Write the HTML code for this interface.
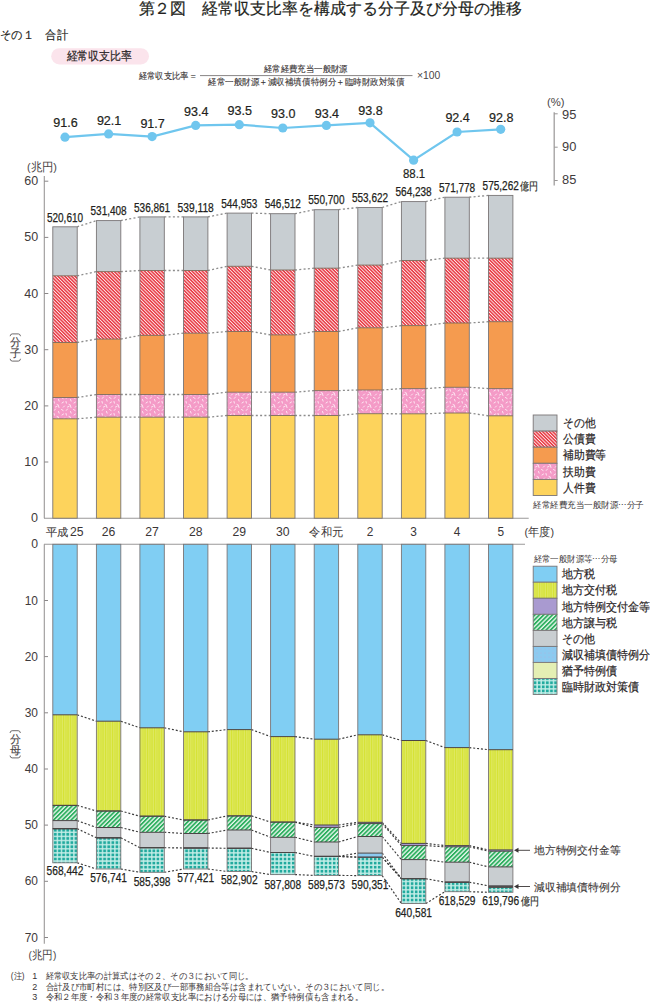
<!DOCTYPE html><html><head><meta charset="utf-8"><style>html,body{margin:0;padding:0;background:#fff;width:650px;height:1002px;overflow:hidden}svg{display:block}text{font-family:"Liberation Sans",sans-serif}</style></head><body>
<svg width="650" height="1002" viewBox="0 0 650 1002">
<defs>
<pattern id="pOther" width="4" height="4" patternUnits="userSpaceOnUse"><rect width="4" height="4" fill="#c8ced2"/></pattern>
<pattern id="pDebt" width="2.4" height="2.4" patternUnits="userSpaceOnUse" patternTransform="rotate(45)"><rect width="2.4" height="2.4" fill="#fdeaea"/><rect width="2.4" height="1.45" fill="#e8343f"/></pattern>
<pattern id="pAid" width="12" height="12" patternUnits="userSpaceOnUse"><rect width="12" height="12" fill="#f49bc7"/>
<path d="M1.5 1.5l1.6 1M7.5 1l-1.2 1.4M10.5 3.5l0.6 1.6M2 7l1.5-1M6 5.5l0.4 1.6M9 8.5l1.6 0.8M4.5 10l-1.2 1.2M11 11.5l-0.5-1.5M7.5 11l1.5-0.6" stroke="#fff" stroke-width="0.75" stroke-linecap="round"/></pattern>
<pattern id="pKofu" width="7" height="4" patternUnits="userSpaceOnUse"><rect width="7" height="4" fill="#d6e336"/><rect x="1.5" width="0.8" height="4" fill="#e4ec7c"/><rect x="3.6" width="0.7" height="4" fill="#e0ea6c"/><rect x="5.8" width="0.8" height="4" fill="#e4ec7c"/></pattern>
<pattern id="pJoyo" width="3.1" height="3.1" patternUnits="userSpaceOnUse" patternTransform="rotate(-45)"><rect width="3.1" height="3.1" fill="#e4f6ea"/><rect width="3.1" height="1.75" fill="#2daf5f"/></pattern>
<pattern id="pGenshu" width="4" height="4" patternUnits="userSpaceOnUse"><rect width="4" height="4" fill="#8ccaf0"/><circle cx="1" cy="1" r="0.4" fill="#c9a0c8"/></pattern>
<pattern id="pRinzai" width="4.1" height="4.1" patternUnits="userSpaceOnUse"><rect width="4.1" height="4.1" fill="#c4eee8"/><rect x="0.75" y="0.75" width="2.7" height="2.7" fill="#21aa9e"/></pattern>
</defs>
<text x="138.5" y="14.2" font-size="15.5" fill="#231f20" text-anchor="start" stroke="#231f20" stroke-width="0.2" textLength="383" lengthAdjust="spacingAndGlyphs" >第２図　経常収支比率を構成する分子及び分母の推移</text>
<text x="0" y="38.5" font-size="12" fill="#231f20" text-anchor="start" stroke="#231f20" stroke-width="0.15" textLength="67.8" lengthAdjust="spacingAndGlyphs" >その１　合計</text>
<rect x="51.2" y="48.2" width="97.8" height="16.2" rx="8.1" fill="#fbe4ec"/>
<text x="66.5" y="60.2" font-size="11.5" fill="#2a2526" text-anchor="start" stroke="#2a2526" stroke-width="0.2" textLength="65.7" lengthAdjust="spacingAndGlyphs" >経常収支比率</text>
<text x="138.6" y="79.0" font-size="9.3" fill="#3a3536" text-anchor="start" stroke="#3a3536" stroke-width="0.12" textLength="58.4" lengthAdjust="spacingAndGlyphs" >経常収支比率＝</text>
<line x1="200" y1="75.6" x2="412.5" y2="75.6" stroke="#7a7677" stroke-width="0.9"/>
<text x="263.8" y="72.1" font-size="9.3" fill="#3a3536" text-anchor="start" stroke="#3a3536" stroke-width="0.12" textLength="84" lengthAdjust="spacingAndGlyphs" >経常経費充当一般財源</text>
<text x="208.2" y="85.3" font-size="9.3" fill="#3a3536" text-anchor="start" stroke="#3a3536" stroke-width="0.12" textLength="196.1" lengthAdjust="spacingAndGlyphs" >経常一般財源＋減収補填債特例分＋臨時財政対策債</text>
<text x="416.9" y="79.1" font-size="10" fill="#4a4546" text-anchor="start" textLength="23.3" lengthAdjust="spacingAndGlyphs" >×100</text>
<polyline fill="none" stroke="#6fc6ee" stroke-width="2.2" points="65.0,137.2 108.6,133.9 152.1,136.6 195.7,125.4 239.3,124.7 282.8,128.0 326.4,125.4 370.0,122.8 413.6,160.2 457.1,132.0 500.7,129.3"/>
<circle cx="65.0" cy="137.2" r="4.6" fill="#70c6ee"/>
<circle cx="108.6" cy="133.9" r="4.6" fill="#70c6ee"/>
<circle cx="152.1" cy="136.6" r="4.6" fill="#70c6ee"/>
<circle cx="195.7" cy="125.4" r="4.6" fill="#70c6ee"/>
<circle cx="239.3" cy="124.7" r="4.6" fill="#70c6ee"/>
<circle cx="282.8" cy="128.0" r="4.6" fill="#70c6ee"/>
<circle cx="326.4" cy="125.4" r="4.6" fill="#70c6ee"/>
<circle cx="370.0" cy="122.8" r="4.6" fill="#70c6ee"/>
<circle cx="413.6" cy="160.2" r="4.6" fill="#70c6ee"/>
<circle cx="457.1" cy="132.0" r="4.6" fill="#70c6ee"/>
<circle cx="500.7" cy="129.3" r="4.6" fill="#70c6ee"/>
<text x="65.5" y="126.6" font-size="12" fill="#231f20" text-anchor="middle" stroke="#231f20" stroke-width="0.2" textLength="24.4" lengthAdjust="spacingAndGlyphs" >91.6</text>
<text x="109.1" y="124.5" font-size="12" fill="#231f20" text-anchor="middle" stroke="#231f20" stroke-width="0.2" textLength="24.4" lengthAdjust="spacingAndGlyphs" >92.1</text>
<text x="152.6" y="127.5" font-size="12" fill="#231f20" text-anchor="middle" stroke="#231f20" stroke-width="0.2" textLength="24.4" lengthAdjust="spacingAndGlyphs" >91.7</text>
<text x="196.2" y="116.3" font-size="12" fill="#231f20" text-anchor="middle" stroke="#231f20" stroke-width="0.2" textLength="24.4" lengthAdjust="spacingAndGlyphs" >93.4</text>
<text x="239.8" y="115.1" font-size="12" fill="#231f20" text-anchor="middle" stroke="#231f20" stroke-width="0.2" textLength="24.4" lengthAdjust="spacingAndGlyphs" >93.5</text>
<text x="283.3" y="118.4" font-size="12" fill="#231f20" text-anchor="middle" stroke="#231f20" stroke-width="0.2" textLength="24.4" lengthAdjust="spacingAndGlyphs" >93.0</text>
<text x="326.9" y="118.0" font-size="12" fill="#231f20" text-anchor="middle" stroke="#231f20" stroke-width="0.2" textLength="24.4" lengthAdjust="spacingAndGlyphs" >93.4</text>
<text x="370.5" y="115.0" font-size="12" fill="#231f20" text-anchor="middle" stroke="#231f20" stroke-width="0.2" textLength="24.4" lengthAdjust="spacingAndGlyphs" >93.8</text>
<text x="414.1" y="177.7" font-size="12" fill="#231f20" text-anchor="middle" stroke="#231f20" stroke-width="0.2" textLength="22.2" lengthAdjust="spacingAndGlyphs" >88.1</text>
<text x="457.6" y="121.6" font-size="12" fill="#231f20" text-anchor="middle" stroke="#231f20" stroke-width="0.2" textLength="24.4" lengthAdjust="spacingAndGlyphs" >92.4</text>
<text x="501.2" y="121.6" font-size="12" fill="#231f20" text-anchor="middle" stroke="#231f20" stroke-width="0.2" textLength="24.4" lengthAdjust="spacingAndGlyphs" >92.8</text>
<line x1="554.2" y1="112.3" x2="554.2" y2="185.4" stroke="#a09e9e" stroke-width="1.3"/>
<line x1="554.2" y1="113.8" x2="557.7" y2="113.8" stroke="#9a9898" stroke-width="1"/>
<text x="562.0" y="118.6" font-size="13.2" fill="#3f3b3c" text-anchor="start" textLength="14.3" lengthAdjust="spacingAndGlyphs" >95</text>
<line x1="554.2" y1="147.2" x2="557.7" y2="147.2" stroke="#9a9898" stroke-width="1"/>
<text x="562.0" y="151.3" font-size="13.2" fill="#3f3b3c" text-anchor="start" textLength="14.3" lengthAdjust="spacingAndGlyphs" >90</text>
<line x1="554.2" y1="180.5" x2="557.7" y2="180.5" stroke="#9a9898" stroke-width="1"/>
<text x="562.0" y="183.9" font-size="13.2" fill="#3f3b3c" text-anchor="start" textLength="14.3" lengthAdjust="spacingAndGlyphs" >85</text>
<text x="547" y="106.4" font-size="11.5" fill="#4a4546" text-anchor="start" textLength="17.6" lengthAdjust="spacingAndGlyphs" >(%)</text>
<line x1="44.3" y1="176" x2="44.3" y2="518.2" stroke="#9a9898" stroke-width="1.1"/>
<line x1="44" y1="518.2" x2="528.7" y2="518.2" stroke="#9a9898" stroke-width="1.1"/>
<line x1="44.3" y1="181.2" x2="48.3" y2="181.2" stroke="#8a8788" stroke-width="1"/>
<text x="38.1" y="185.2" font-size="13.2" fill="#3f3b3c" text-anchor="end" textLength="13.9" lengthAdjust="spacingAndGlyphs" >60</text>
<line x1="44.3" y1="237.4" x2="48.3" y2="237.4" stroke="#8a8788" stroke-width="1"/>
<text x="38.1" y="241.4" font-size="13.2" fill="#3f3b3c" text-anchor="end" textLength="13.9" lengthAdjust="spacingAndGlyphs" >50</text>
<line x1="44.3" y1="293.5" x2="48.3" y2="293.5" stroke="#8a8788" stroke-width="1"/>
<text x="38.1" y="297.5" font-size="13.2" fill="#3f3b3c" text-anchor="end" textLength="13.9" lengthAdjust="spacingAndGlyphs" >40</text>
<line x1="44.3" y1="349.7" x2="48.3" y2="349.7" stroke="#8a8788" stroke-width="1"/>
<text x="38.1" y="353.7" font-size="13.2" fill="#3f3b3c" text-anchor="end" textLength="13.9" lengthAdjust="spacingAndGlyphs" >30</text>
<line x1="44.3" y1="405.9" x2="48.3" y2="405.9" stroke="#8a8788" stroke-width="1"/>
<text x="38.1" y="409.9" font-size="13.2" fill="#3f3b3c" text-anchor="end" textLength="13.9" lengthAdjust="spacingAndGlyphs" >20</text>
<line x1="44.3" y1="462.0" x2="48.3" y2="462.0" stroke="#8a8788" stroke-width="1"/>
<text x="38.1" y="466.0" font-size="13.2" fill="#3f3b3c" text-anchor="end" textLength="13.9" lengthAdjust="spacingAndGlyphs" >10</text>
<text x="38.1" y="522.2" font-size="13.2" fill="#3f3b3c" text-anchor="end" textLength="7" lengthAdjust="spacingAndGlyphs" >0</text>
<text x="27" y="171" font-size="11.5" fill="#4a4546" text-anchor="start" textLength="30" lengthAdjust="spacingAndGlyphs" >(兆円)</text>
<path d="M10.100000000000001 336.20000000000005q0.3 -2.3 2.2 -2.3h6q1.9 0 2.2 2.3" fill="none" stroke="#4a4546" stroke-width="0.8"/>
<text x="15.3" y="346.2" font-size="10.8" fill="#4a4546" text-anchor="middle" stroke="#4a4546" stroke-width="0.15" >分</text>
<text x="15.3" y="357.4" font-size="10.8" fill="#4a4546" text-anchor="middle" stroke="#4a4546" stroke-width="0.15" >子</text>
<path d="M10.100000000000001 358.8q0.3 2.3 2.2 2.3h6q1.9 0 2.2 -2.3" fill="none" stroke="#4a4546" stroke-width="0.8"/>
<line x1="77.2" y1="226.8" x2="96.4" y2="220.6" stroke="#8c8c8c" stroke-width="1.3" stroke-dasharray="2,2.3"/>
<line x1="77.2" y1="275.8" x2="96.4" y2="271.6" stroke="#8c8c8c" stroke-width="1.3" stroke-dasharray="2,2.3"/>
<line x1="77.2" y1="342.5" x2="96.4" y2="339.1" stroke="#8c8c8c" stroke-width="1.3" stroke-dasharray="2,2.3"/>
<line x1="77.2" y1="397.5" x2="96.4" y2="394.5" stroke="#8c8c8c" stroke-width="1.3" stroke-dasharray="2,2.3"/>
<line x1="77.2" y1="418.8" x2="96.4" y2="417.2" stroke="#8c8c8c" stroke-width="1.3" stroke-dasharray="2,2.3"/>
<line x1="120.8" y1="220.6" x2="139.9" y2="216.9" stroke="#8c8c8c" stroke-width="1.3" stroke-dasharray="2,2.3"/>
<line x1="120.8" y1="271.6" x2="139.9" y2="270.5" stroke="#8c8c8c" stroke-width="1.3" stroke-dasharray="2,2.3"/>
<line x1="120.8" y1="339.1" x2="139.9" y2="335.4" stroke="#8c8c8c" stroke-width="1.3" stroke-dasharray="2,2.3"/>
<line x1="120.8" y1="394.5" x2="139.9" y2="394.5" stroke="#8c8c8c" stroke-width="1.3" stroke-dasharray="2,2.3"/>
<line x1="120.8" y1="417.2" x2="139.9" y2="417.2" stroke="#8c8c8c" stroke-width="1.3" stroke-dasharray="2,2.3"/>
<line x1="164.3" y1="216.9" x2="183.5" y2="216.9" stroke="#8c8c8c" stroke-width="1.3" stroke-dasharray="2,2.3"/>
<line x1="164.3" y1="270.5" x2="183.5" y2="270.5" stroke="#8c8c8c" stroke-width="1.3" stroke-dasharray="2,2.3"/>
<line x1="164.3" y1="335.4" x2="183.5" y2="333.2" stroke="#8c8c8c" stroke-width="1.3" stroke-dasharray="2,2.3"/>
<line x1="164.3" y1="394.5" x2="183.5" y2="394.5" stroke="#8c8c8c" stroke-width="1.3" stroke-dasharray="2,2.3"/>
<line x1="164.3" y1="417.2" x2="183.5" y2="417.2" stroke="#8c8c8c" stroke-width="1.3" stroke-dasharray="2,2.3"/>
<line x1="207.9" y1="216.9" x2="227.1" y2="213.1" stroke="#8c8c8c" stroke-width="1.3" stroke-dasharray="2,2.3"/>
<line x1="207.9" y1="270.5" x2="227.1" y2="266.3" stroke="#8c8c8c" stroke-width="1.3" stroke-dasharray="2,2.3"/>
<line x1="207.9" y1="333.2" x2="227.1" y2="331.5" stroke="#8c8c8c" stroke-width="1.3" stroke-dasharray="2,2.3"/>
<line x1="207.9" y1="394.5" x2="227.1" y2="392.2" stroke="#8c8c8c" stroke-width="1.3" stroke-dasharray="2,2.3"/>
<line x1="207.9" y1="417.2" x2="227.1" y2="415.5" stroke="#8c8c8c" stroke-width="1.3" stroke-dasharray="2,2.3"/>
<line x1="251.5" y1="213.1" x2="270.6" y2="213.7" stroke="#8c8c8c" stroke-width="1.3" stroke-dasharray="2,2.3"/>
<line x1="251.5" y1="266.3" x2="270.6" y2="270.0" stroke="#8c8c8c" stroke-width="1.3" stroke-dasharray="2,2.3"/>
<line x1="251.5" y1="331.5" x2="270.6" y2="334.9" stroke="#8c8c8c" stroke-width="1.3" stroke-dasharray="2,2.3"/>
<line x1="251.5" y1="392.2" x2="270.6" y2="392.2" stroke="#8c8c8c" stroke-width="1.3" stroke-dasharray="2,2.3"/>
<line x1="251.5" y1="415.5" x2="270.6" y2="415.5" stroke="#8c8c8c" stroke-width="1.3" stroke-dasharray="2,2.3"/>
<line x1="295.0" y1="213.7" x2="314.2" y2="209.7" stroke="#8c8c8c" stroke-width="1.3" stroke-dasharray="2,2.3"/>
<line x1="295.0" y1="270.0" x2="314.2" y2="268.2" stroke="#8c8c8c" stroke-width="1.3" stroke-dasharray="2,2.3"/>
<line x1="295.0" y1="334.9" x2="314.2" y2="331.5" stroke="#8c8c8c" stroke-width="1.3" stroke-dasharray="2,2.3"/>
<line x1="295.0" y1="392.2" x2="314.2" y2="390.6" stroke="#8c8c8c" stroke-width="1.3" stroke-dasharray="2,2.3"/>
<line x1="295.0" y1="415.5" x2="314.2" y2="415.5" stroke="#8c8c8c" stroke-width="1.3" stroke-dasharray="2,2.3"/>
<line x1="338.6" y1="209.7" x2="357.8" y2="207.5" stroke="#8c8c8c" stroke-width="1.3" stroke-dasharray="2,2.3"/>
<line x1="338.6" y1="268.2" x2="357.8" y2="265.1" stroke="#8c8c8c" stroke-width="1.3" stroke-dasharray="2,2.3"/>
<line x1="338.6" y1="331.5" x2="357.8" y2="327.8" stroke="#8c8c8c" stroke-width="1.3" stroke-dasharray="2,2.3"/>
<line x1="338.6" y1="390.6" x2="357.8" y2="390.0" stroke="#8c8c8c" stroke-width="1.3" stroke-dasharray="2,2.3"/>
<line x1="338.6" y1="415.5" x2="357.8" y2="413.7" stroke="#8c8c8c" stroke-width="1.3" stroke-dasharray="2,2.3"/>
<line x1="382.2" y1="207.5" x2="401.4" y2="201.6" stroke="#8c8c8c" stroke-width="1.3" stroke-dasharray="2,2.3"/>
<line x1="382.2" y1="265.1" x2="401.4" y2="260.5" stroke="#8c8c8c" stroke-width="1.3" stroke-dasharray="2,2.3"/>
<line x1="382.2" y1="327.8" x2="401.4" y2="325.6" stroke="#8c8c8c" stroke-width="1.3" stroke-dasharray="2,2.3"/>
<line x1="382.2" y1="390.0" x2="401.4" y2="388.6" stroke="#8c8c8c" stroke-width="1.3" stroke-dasharray="2,2.3"/>
<line x1="382.2" y1="413.7" x2="401.4" y2="413.8" stroke="#8c8c8c" stroke-width="1.3" stroke-dasharray="2,2.3"/>
<line x1="425.8" y1="201.6" x2="444.9" y2="197.2" stroke="#8c8c8c" stroke-width="1.3" stroke-dasharray="2,2.3"/>
<line x1="425.8" y1="260.5" x2="444.9" y2="258.2" stroke="#8c8c8c" stroke-width="1.3" stroke-dasharray="2,2.3"/>
<line x1="425.8" y1="325.6" x2="444.9" y2="323.0" stroke="#8c8c8c" stroke-width="1.3" stroke-dasharray="2,2.3"/>
<line x1="425.8" y1="388.6" x2="444.9" y2="387.3" stroke="#8c8c8c" stroke-width="1.3" stroke-dasharray="2,2.3"/>
<line x1="425.8" y1="413.8" x2="444.9" y2="413.0" stroke="#8c8c8c" stroke-width="1.3" stroke-dasharray="2,2.3"/>
<line x1="469.3" y1="197.2" x2="488.5" y2="195.4" stroke="#8c8c8c" stroke-width="1.3" stroke-dasharray="2,2.3"/>
<line x1="469.3" y1="258.2" x2="488.5" y2="258.2" stroke="#8c8c8c" stroke-width="1.3" stroke-dasharray="2,2.3"/>
<line x1="469.3" y1="323.0" x2="488.5" y2="321.7" stroke="#8c8c8c" stroke-width="1.3" stroke-dasharray="2,2.3"/>
<line x1="469.3" y1="387.3" x2="488.5" y2="388.6" stroke="#8c8c8c" stroke-width="1.3" stroke-dasharray="2,2.3"/>
<line x1="469.3" y1="413.0" x2="488.5" y2="415.8" stroke="#8c8c8c" stroke-width="1.3" stroke-dasharray="2,2.3"/>
<rect x="52.8" y="226.8" width="24.4" height="49.0" fill="url(#pOther)"/>
<rect x="52.8" y="275.8" width="24.4" height="66.7" fill="url(#pDebt)"/>
<rect x="52.8" y="342.5" width="24.4" height="55.0" fill="#f59b4f"/>
<rect x="52.8" y="397.5" width="24.4" height="21.3" fill="url(#pAid)"/>
<rect x="52.8" y="418.8" width="24.4" height="99.4" fill="#fdd35c"/>
<rect x="52.8" y="226.8" width="24.4" height="291.4" fill="none" stroke="#7a7677" stroke-width="0.9"/>
<line x1="52.8" y1="275.8" x2="77.2" y2="275.8" stroke="#7a6a5a" stroke-width="0.9"/>
<line x1="52.8" y1="342.5" x2="77.2" y2="342.5" stroke="#7a6a5a" stroke-width="0.9"/>
<line x1="52.8" y1="397.5" x2="77.2" y2="397.5" stroke="#7a6a5a" stroke-width="0.9"/>
<line x1="52.8" y1="418.8" x2="77.2" y2="418.8" stroke="#7a6a5a" stroke-width="0.9"/>
<rect x="96.4" y="220.6" width="24.4" height="51.0" fill="url(#pOther)"/>
<rect x="96.4" y="271.6" width="24.4" height="67.5" fill="url(#pDebt)"/>
<rect x="96.4" y="339.1" width="24.4" height="55.4" fill="#f59b4f"/>
<rect x="96.4" y="394.5" width="24.4" height="22.7" fill="url(#pAid)"/>
<rect x="96.4" y="417.2" width="24.4" height="101.0" fill="#fdd35c"/>
<rect x="96.4" y="220.6" width="24.4" height="297.6" fill="none" stroke="#7a7677" stroke-width="0.9"/>
<line x1="96.4" y1="271.6" x2="120.8" y2="271.6" stroke="#7a6a5a" stroke-width="0.9"/>
<line x1="96.4" y1="339.1" x2="120.8" y2="339.1" stroke="#7a6a5a" stroke-width="0.9"/>
<line x1="96.4" y1="394.5" x2="120.8" y2="394.5" stroke="#7a6a5a" stroke-width="0.9"/>
<line x1="96.4" y1="417.2" x2="120.8" y2="417.2" stroke="#7a6a5a" stroke-width="0.9"/>
<rect x="139.9" y="216.9" width="24.4" height="53.6" fill="url(#pOther)"/>
<rect x="139.9" y="270.5" width="24.4" height="64.9" fill="url(#pDebt)"/>
<rect x="139.9" y="335.4" width="24.4" height="59.1" fill="#f59b4f"/>
<rect x="139.9" y="394.5" width="24.4" height="22.7" fill="url(#pAid)"/>
<rect x="139.9" y="417.2" width="24.4" height="101.0" fill="#fdd35c"/>
<rect x="139.9" y="216.9" width="24.4" height="301.3" fill="none" stroke="#7a7677" stroke-width="0.9"/>
<line x1="139.9" y1="270.5" x2="164.3" y2="270.5" stroke="#7a6a5a" stroke-width="0.9"/>
<line x1="139.9" y1="335.4" x2="164.3" y2="335.4" stroke="#7a6a5a" stroke-width="0.9"/>
<line x1="139.9" y1="394.5" x2="164.3" y2="394.5" stroke="#7a6a5a" stroke-width="0.9"/>
<line x1="139.9" y1="417.2" x2="164.3" y2="417.2" stroke="#7a6a5a" stroke-width="0.9"/>
<rect x="183.5" y="216.9" width="24.4" height="53.6" fill="url(#pOther)"/>
<rect x="183.5" y="270.5" width="24.4" height="62.7" fill="url(#pDebt)"/>
<rect x="183.5" y="333.2" width="24.4" height="61.3" fill="#f59b4f"/>
<rect x="183.5" y="394.5" width="24.4" height="22.7" fill="url(#pAid)"/>
<rect x="183.5" y="417.2" width="24.4" height="101.0" fill="#fdd35c"/>
<rect x="183.5" y="216.9" width="24.4" height="301.3" fill="none" stroke="#7a7677" stroke-width="0.9"/>
<line x1="183.5" y1="270.5" x2="207.9" y2="270.5" stroke="#7a6a5a" stroke-width="0.9"/>
<line x1="183.5" y1="333.2" x2="207.9" y2="333.2" stroke="#7a6a5a" stroke-width="0.9"/>
<line x1="183.5" y1="394.5" x2="207.9" y2="394.5" stroke="#7a6a5a" stroke-width="0.9"/>
<line x1="183.5" y1="417.2" x2="207.9" y2="417.2" stroke="#7a6a5a" stroke-width="0.9"/>
<rect x="227.1" y="213.1" width="24.4" height="53.2" fill="url(#pOther)"/>
<rect x="227.1" y="266.3" width="24.4" height="65.2" fill="url(#pDebt)"/>
<rect x="227.1" y="331.5" width="24.4" height="60.7" fill="#f59b4f"/>
<rect x="227.1" y="392.2" width="24.4" height="23.3" fill="url(#pAid)"/>
<rect x="227.1" y="415.5" width="24.4" height="102.7" fill="#fdd35c"/>
<rect x="227.1" y="213.1" width="24.4" height="305.1" fill="none" stroke="#7a7677" stroke-width="0.9"/>
<line x1="227.1" y1="266.3" x2="251.5" y2="266.3" stroke="#7a6a5a" stroke-width="0.9"/>
<line x1="227.1" y1="331.5" x2="251.5" y2="331.5" stroke="#7a6a5a" stroke-width="0.9"/>
<line x1="227.1" y1="392.2" x2="251.5" y2="392.2" stroke="#7a6a5a" stroke-width="0.9"/>
<line x1="227.1" y1="415.5" x2="251.5" y2="415.5" stroke="#7a6a5a" stroke-width="0.9"/>
<rect x="270.6" y="213.7" width="24.4" height="56.3" fill="url(#pOther)"/>
<rect x="270.6" y="270.0" width="24.4" height="64.9" fill="url(#pDebt)"/>
<rect x="270.6" y="334.9" width="24.4" height="57.3" fill="#f59b4f"/>
<rect x="270.6" y="392.2" width="24.4" height="23.3" fill="url(#pAid)"/>
<rect x="270.6" y="415.5" width="24.4" height="102.7" fill="#fdd35c"/>
<rect x="270.6" y="213.7" width="24.4" height="304.5" fill="none" stroke="#7a7677" stroke-width="0.9"/>
<line x1="270.6" y1="270.0" x2="295.0" y2="270.0" stroke="#7a6a5a" stroke-width="0.9"/>
<line x1="270.6" y1="334.9" x2="295.0" y2="334.9" stroke="#7a6a5a" stroke-width="0.9"/>
<line x1="270.6" y1="392.2" x2="295.0" y2="392.2" stroke="#7a6a5a" stroke-width="0.9"/>
<line x1="270.6" y1="415.5" x2="295.0" y2="415.5" stroke="#7a6a5a" stroke-width="0.9"/>
<rect x="314.2" y="209.7" width="24.4" height="58.5" fill="url(#pOther)"/>
<rect x="314.2" y="268.2" width="24.4" height="63.3" fill="url(#pDebt)"/>
<rect x="314.2" y="331.5" width="24.4" height="59.1" fill="#f59b4f"/>
<rect x="314.2" y="390.6" width="24.4" height="24.9" fill="url(#pAid)"/>
<rect x="314.2" y="415.5" width="24.4" height="102.7" fill="#fdd35c"/>
<rect x="314.2" y="209.7" width="24.4" height="308.5" fill="none" stroke="#7a7677" stroke-width="0.9"/>
<line x1="314.2" y1="268.2" x2="338.6" y2="268.2" stroke="#7a6a5a" stroke-width="0.9"/>
<line x1="314.2" y1="331.5" x2="338.6" y2="331.5" stroke="#7a6a5a" stroke-width="0.9"/>
<line x1="314.2" y1="390.6" x2="338.6" y2="390.6" stroke="#7a6a5a" stroke-width="0.9"/>
<line x1="314.2" y1="415.5" x2="338.6" y2="415.5" stroke="#7a6a5a" stroke-width="0.9"/>
<rect x="357.8" y="207.5" width="24.4" height="57.6" fill="url(#pOther)"/>
<rect x="357.8" y="265.1" width="24.4" height="62.7" fill="url(#pDebt)"/>
<rect x="357.8" y="327.8" width="24.4" height="62.2" fill="#f59b4f"/>
<rect x="357.8" y="390.0" width="24.4" height="23.7" fill="url(#pAid)"/>
<rect x="357.8" y="413.7" width="24.4" height="104.5" fill="#fdd35c"/>
<rect x="357.8" y="207.5" width="24.4" height="310.7" fill="none" stroke="#7a7677" stroke-width="0.9"/>
<line x1="357.8" y1="265.1" x2="382.2" y2="265.1" stroke="#7a6a5a" stroke-width="0.9"/>
<line x1="357.8" y1="327.8" x2="382.2" y2="327.8" stroke="#7a6a5a" stroke-width="0.9"/>
<line x1="357.8" y1="390.0" x2="382.2" y2="390.0" stroke="#7a6a5a" stroke-width="0.9"/>
<line x1="357.8" y1="413.7" x2="382.2" y2="413.7" stroke="#7a6a5a" stroke-width="0.9"/>
<rect x="401.4" y="201.6" width="24.4" height="58.9" fill="url(#pOther)"/>
<rect x="401.4" y="260.5" width="24.4" height="65.1" fill="url(#pDebt)"/>
<rect x="401.4" y="325.6" width="24.4" height="63.0" fill="#f59b4f"/>
<rect x="401.4" y="388.6" width="24.4" height="25.2" fill="url(#pAid)"/>
<rect x="401.4" y="413.8" width="24.4" height="104.4" fill="#fdd35c"/>
<rect x="401.4" y="201.6" width="24.4" height="316.6" fill="none" stroke="#7a7677" stroke-width="0.9"/>
<line x1="401.4" y1="260.5" x2="425.8" y2="260.5" stroke="#7a6a5a" stroke-width="0.9"/>
<line x1="401.4" y1="325.6" x2="425.8" y2="325.6" stroke="#7a6a5a" stroke-width="0.9"/>
<line x1="401.4" y1="388.6" x2="425.8" y2="388.6" stroke="#7a6a5a" stroke-width="0.9"/>
<line x1="401.4" y1="413.8" x2="425.8" y2="413.8" stroke="#7a6a5a" stroke-width="0.9"/>
<rect x="444.9" y="197.2" width="24.4" height="61.0" fill="url(#pOther)"/>
<rect x="444.9" y="258.2" width="24.4" height="64.8" fill="url(#pDebt)"/>
<rect x="444.9" y="323.0" width="24.4" height="64.3" fill="#f59b4f"/>
<rect x="444.9" y="387.3" width="24.4" height="25.7" fill="url(#pAid)"/>
<rect x="444.9" y="413.0" width="24.4" height="105.2" fill="#fdd35c"/>
<rect x="444.9" y="197.2" width="24.4" height="321.0" fill="none" stroke="#7a7677" stroke-width="0.9"/>
<line x1="444.9" y1="258.2" x2="469.3" y2="258.2" stroke="#7a6a5a" stroke-width="0.9"/>
<line x1="444.9" y1="323.0" x2="469.3" y2="323.0" stroke="#7a6a5a" stroke-width="0.9"/>
<line x1="444.9" y1="387.3" x2="469.3" y2="387.3" stroke="#7a6a5a" stroke-width="0.9"/>
<line x1="444.9" y1="413.0" x2="469.3" y2="413.0" stroke="#7a6a5a" stroke-width="0.9"/>
<rect x="488.5" y="195.4" width="24.4" height="62.8" fill="url(#pOther)"/>
<rect x="488.5" y="258.2" width="24.4" height="63.5" fill="url(#pDebt)"/>
<rect x="488.5" y="321.7" width="24.4" height="66.9" fill="#f59b4f"/>
<rect x="488.5" y="388.6" width="24.4" height="27.2" fill="url(#pAid)"/>
<rect x="488.5" y="415.8" width="24.4" height="102.4" fill="#fdd35c"/>
<rect x="488.5" y="195.4" width="24.4" height="322.8" fill="none" stroke="#7a7677" stroke-width="0.9"/>
<line x1="488.5" y1="258.2" x2="512.9" y2="258.2" stroke="#7a6a5a" stroke-width="0.9"/>
<line x1="488.5" y1="321.7" x2="512.9" y2="321.7" stroke="#7a6a5a" stroke-width="0.9"/>
<line x1="488.5" y1="388.6" x2="512.9" y2="388.6" stroke="#7a6a5a" stroke-width="0.9"/>
<line x1="488.5" y1="415.8" x2="512.9" y2="415.8" stroke="#7a6a5a" stroke-width="0.9"/>
<text x="65.0" y="221.5" font-size="12" fill="#231f20" text-anchor="middle" stroke="#231f20" stroke-width="0.25" textLength="36.2" lengthAdjust="spacingAndGlyphs" >520,610</text>
<text x="108.6" y="215.3" font-size="12" fill="#231f20" text-anchor="middle" stroke="#231f20" stroke-width="0.25" textLength="36.2" lengthAdjust="spacingAndGlyphs" >531,408</text>
<text x="152.1" y="211.6" font-size="12" fill="#231f20" text-anchor="middle" stroke="#231f20" stroke-width="0.25" textLength="36.2" lengthAdjust="spacingAndGlyphs" >536,861</text>
<text x="195.7" y="211.6" font-size="12" fill="#231f20" text-anchor="middle" stroke="#231f20" stroke-width="0.25" textLength="36.2" lengthAdjust="spacingAndGlyphs" >539,118</text>
<text x="239.3" y="207.8" font-size="12" fill="#231f20" text-anchor="middle" stroke="#231f20" stroke-width="0.25" textLength="36.2" lengthAdjust="spacingAndGlyphs" >544,953</text>
<text x="282.8" y="208.4" font-size="12" fill="#231f20" text-anchor="middle" stroke="#231f20" stroke-width="0.25" textLength="36.2" lengthAdjust="spacingAndGlyphs" >546,512</text>
<text x="326.4" y="204.4" font-size="12" fill="#231f20" text-anchor="middle" stroke="#231f20" stroke-width="0.25" textLength="36.2" lengthAdjust="spacingAndGlyphs" >550,700</text>
<text x="370.0" y="202.2" font-size="12" fill="#231f20" text-anchor="middle" stroke="#231f20" stroke-width="0.25" textLength="36.2" lengthAdjust="spacingAndGlyphs" >553,622</text>
<text x="413.6" y="196.3" font-size="12" fill="#231f20" text-anchor="middle" stroke="#231f20" stroke-width="0.25" textLength="36.2" lengthAdjust="spacingAndGlyphs" >564,238</text>
<text x="457.1" y="191.9" font-size="12" fill="#231f20" text-anchor="middle" stroke="#231f20" stroke-width="0.25" textLength="36.2" lengthAdjust="spacingAndGlyphs" >571,778</text>
<text x="500.7" y="190.1" font-size="12" fill="#231f20" text-anchor="middle" stroke="#231f20" stroke-width="0.25" textLength="36.2" lengthAdjust="spacingAndGlyphs" >575,262</text>
<text x="520" y="189.5" font-size="11" fill="#231f20" text-anchor="start" stroke="#231f20" stroke-width="0.15" textLength="18" lengthAdjust="spacingAndGlyphs" >億円</text>
<rect x="533.2" y="415.0" width="23.8" height="16.1" fill="url(#pOther)" stroke="#7a7677" stroke-width="0.9"/>
<text x="563" y="427.2" font-size="11.5" fill="#2a2526" text-anchor="start" stroke="#2a2526" stroke-width="0.2" textLength="32.400000000000006" lengthAdjust="spacingAndGlyphs" >その他</text>
<rect x="533.2" y="431.1" width="23.8" height="16.1" fill="url(#pDebt)" stroke="#7a7677" stroke-width="0.9"/>
<text x="563" y="443.3" font-size="11.5" fill="#2a2526" text-anchor="start" stroke="#2a2526" stroke-width="0.2" textLength="32.400000000000006" lengthAdjust="spacingAndGlyphs" >公債費</text>
<rect x="533.2" y="447.2" width="23.8" height="16.1" fill="#f59b4f" stroke="#7a7677" stroke-width="0.9"/>
<text x="563" y="459.4" font-size="11.5" fill="#2a2526" text-anchor="start" stroke="#2a2526" stroke-width="0.2" textLength="43.2" lengthAdjust="spacingAndGlyphs" >補助費等</text>
<rect x="533.2" y="463.3" width="23.8" height="16.1" fill="url(#pAid)" stroke="#7a7677" stroke-width="0.9"/>
<text x="563" y="475.5" font-size="11.5" fill="#2a2526" text-anchor="start" stroke="#2a2526" stroke-width="0.2" textLength="32.400000000000006" lengthAdjust="spacingAndGlyphs" >扶助費</text>
<rect x="533.2" y="479.4" width="23.8" height="16.1" fill="#fdd35c" stroke="#7a7677" stroke-width="0.9"/>
<text x="563" y="491.6" font-size="11.5" fill="#2a2526" text-anchor="start" stroke="#2a2526" stroke-width="0.2" textLength="32.400000000000006" lengthAdjust="spacingAndGlyphs" >人件費</text>
<text x="533" y="508.2" font-size="8.5" fill="#3a3536" text-anchor="start" textLength="111" lengthAdjust="spacingAndGlyphs" >経常経費充当一般財源⋯分子</text>
<text x="46.0" y="535.8" font-size="11.3" fill="#3a3536" text-anchor="start" stroke="#3a3536" stroke-width="0.1" textLength="22.4" lengthAdjust="spacingAndGlyphs" >平成</text>
<text x="70.0" y="535.6" font-size="12.5" fill="#3a3536" text-anchor="start" textLength="13.6" lengthAdjust="spacingAndGlyphs" >25</text>
<text x="108.6" y="536.3" font-size="12.5" fill="#3a3536" text-anchor="middle" textLength="13.6" lengthAdjust="spacingAndGlyphs" >26</text>
<text x="152.1" y="536.3" font-size="12.5" fill="#3a3536" text-anchor="middle" textLength="13.6" lengthAdjust="spacingAndGlyphs" >27</text>
<text x="195.7" y="536.3" font-size="12.5" fill="#3a3536" text-anchor="middle" textLength="13.6" lengthAdjust="spacingAndGlyphs" >28</text>
<text x="239.3" y="536.3" font-size="12.5" fill="#3a3536" text-anchor="middle" textLength="13.6" lengthAdjust="spacingAndGlyphs" >29</text>
<text x="282.8" y="536.3" font-size="12.5" fill="#3a3536" text-anchor="middle" textLength="13.6" lengthAdjust="spacingAndGlyphs" >30</text>
<text x="326.4" y="536.3" font-size="11.5" fill="#3a3536" text-anchor="middle" textLength="34" lengthAdjust="spacingAndGlyphs" >令和元</text>
<text x="370.0" y="536.3" font-size="12.5" fill="#3a3536" text-anchor="middle" textLength="6.6" lengthAdjust="spacingAndGlyphs" >2</text>
<text x="413.6" y="536.3" font-size="12.5" fill="#3a3536" text-anchor="middle" textLength="6.6" lengthAdjust="spacingAndGlyphs" >3</text>
<text x="457.1" y="536.3" font-size="12.5" fill="#3a3536" text-anchor="middle" textLength="6.6" lengthAdjust="spacingAndGlyphs" >4</text>
<text x="500.7" y="536.3" font-size="12.5" fill="#3a3536" text-anchor="middle" textLength="6.6" lengthAdjust="spacingAndGlyphs" >5</text>
<text x="524.5" y="535.6" font-size="11.5" fill="#3a3536" text-anchor="start" textLength="29.5" lengthAdjust="spacingAndGlyphs" >(年度)</text>
<line x1="44.3" y1="544.3" x2="44.3" y2="943.7" stroke="#9a9898" stroke-width="1.1"/>
<line x1="44" y1="544.3" x2="525" y2="544.3" stroke="#9a9898" stroke-width="1.1"/>
<text x="38.0" y="548.3" font-size="13.2" fill="#3f3b3c" text-anchor="end" textLength="6.8" lengthAdjust="spacingAndGlyphs" >0</text>
<line x1="44.3" y1="600.5" x2="48" y2="600.5" stroke="#8a8788" stroke-width="1"/>
<text x="38.0" y="604.5" font-size="13.2" fill="#3f3b3c" text-anchor="end" textLength="13.3" lengthAdjust="spacingAndGlyphs" >10</text>
<line x1="44.3" y1="656.6" x2="48" y2="656.6" stroke="#8a8788" stroke-width="1"/>
<text x="38.0" y="660.6" font-size="13.2" fill="#3f3b3c" text-anchor="end" textLength="13.3" lengthAdjust="spacingAndGlyphs" >20</text>
<line x1="44.3" y1="712.8" x2="48" y2="712.8" stroke="#8a8788" stroke-width="1"/>
<text x="38.0" y="716.8" font-size="13.2" fill="#3f3b3c" text-anchor="end" textLength="13.3" lengthAdjust="spacingAndGlyphs" >30</text>
<line x1="44.3" y1="769.0" x2="48" y2="769.0" stroke="#8a8788" stroke-width="1"/>
<text x="38.0" y="773.0" font-size="13.2" fill="#3f3b3c" text-anchor="end" textLength="13.3" lengthAdjust="spacingAndGlyphs" >40</text>
<line x1="44.3" y1="825.1" x2="48" y2="825.1" stroke="#8a8788" stroke-width="1"/>
<text x="38.0" y="829.1" font-size="13.2" fill="#3f3b3c" text-anchor="end" textLength="13.3" lengthAdjust="spacingAndGlyphs" >50</text>
<line x1="44.3" y1="881.3" x2="48" y2="881.3" stroke="#8a8788" stroke-width="1"/>
<text x="38.0" y="885.3" font-size="13.2" fill="#3f3b3c" text-anchor="end" textLength="13.3" lengthAdjust="spacingAndGlyphs" >60</text>
<line x1="44.3" y1="937.5" x2="48" y2="937.5" stroke="#8a8788" stroke-width="1"/>
<text x="38.0" y="941.5" font-size="13.2" fill="#3f3b3c" text-anchor="end" textLength="13.3" lengthAdjust="spacingAndGlyphs" >70</text>
<text x="28.5" y="959.2" font-size="11.5" fill="#4a4546" text-anchor="start" textLength="28" lengthAdjust="spacingAndGlyphs" >(兆円)</text>
<path d="M10.0 733.0q0.3 -2.3 2.2 -2.3h6q1.9 0 2.2 2.3" fill="none" stroke="#4a4546" stroke-width="0.8"/>
<text x="15.2" y="743.0" font-size="10.8" fill="#4a4546" text-anchor="middle" stroke="#4a4546" stroke-width="0.15" >分</text>
<text x="15.2" y="754.2" font-size="10.8" fill="#4a4546" text-anchor="middle" stroke="#4a4546" stroke-width="0.15" >母</text>
<path d="M10.0 755.6q0.3 2.3 2.2 2.3h6q1.9 0 2.2 -2.3" fill="none" stroke="#4a4546" stroke-width="0.8"/>
<line x1="77.2" y1="714.8" x2="96.4" y2="721.2" stroke="#3a3a3a" stroke-width="1.15" stroke-dasharray="2,1.9"/>
<line x1="77.2" y1="805.4" x2="96.4" y2="811.0" stroke="#3a3a3a" stroke-width="1.15" stroke-dasharray="2,1.9"/>
<line x1="77.2" y1="820.6" x2="96.4" y2="827.5" stroke="#3a3a3a" stroke-width="1.15" stroke-dasharray="2,1.9"/>
<line x1="77.2" y1="828.7" x2="96.4" y2="837.8" stroke="#3a3a3a" stroke-width="1.15" stroke-dasharray="2,1.9"/>
<line x1="77.2" y1="862.8" x2="96.4" y2="869.0" stroke="#3a3a3a" stroke-width="1.15" stroke-dasharray="2,1.9"/>
<line x1="120.8" y1="721.2" x2="139.9" y2="727.8" stroke="#3a3a3a" stroke-width="1.15" stroke-dasharray="2,1.9"/>
<line x1="120.8" y1="811.0" x2="139.9" y2="816.2" stroke="#3a3a3a" stroke-width="1.15" stroke-dasharray="2,1.9"/>
<line x1="120.8" y1="827.5" x2="139.9" y2="832.3" stroke="#3a3a3a" stroke-width="1.15" stroke-dasharray="2,1.9"/>
<line x1="120.8" y1="837.8" x2="139.9" y2="847.7" stroke="#3a3a3a" stroke-width="1.15" stroke-dasharray="2,1.9"/>
<line x1="120.8" y1="869.0" x2="139.9" y2="872.3" stroke="#3a3a3a" stroke-width="1.15" stroke-dasharray="2,1.9"/>
<line x1="164.3" y1="727.8" x2="183.5" y2="731.8" stroke="#3a3a3a" stroke-width="1.15" stroke-dasharray="2,1.9"/>
<line x1="164.3" y1="816.2" x2="183.5" y2="820.0" stroke="#3a3a3a" stroke-width="1.15" stroke-dasharray="2,1.9"/>
<line x1="164.3" y1="832.3" x2="183.5" y2="833.5" stroke="#3a3a3a" stroke-width="1.15" stroke-dasharray="2,1.9"/>
<line x1="164.3" y1="847.7" x2="183.5" y2="848.0" stroke="#3a3a3a" stroke-width="1.15" stroke-dasharray="2,1.9"/>
<line x1="164.3" y1="872.3" x2="183.5" y2="869.0" stroke="#3a3a3a" stroke-width="1.15" stroke-dasharray="2,1.9"/>
<line x1="207.9" y1="731.8" x2="227.1" y2="729.6" stroke="#3a3a3a" stroke-width="1.15" stroke-dasharray="2,1.9"/>
<line x1="207.9" y1="820.0" x2="227.1" y2="815.9" stroke="#3a3a3a" stroke-width="1.15" stroke-dasharray="2,1.9"/>
<line x1="207.9" y1="833.5" x2="227.1" y2="830.0" stroke="#3a3a3a" stroke-width="1.15" stroke-dasharray="2,1.9"/>
<line x1="207.9" y1="848.0" x2="227.1" y2="848.3" stroke="#3a3a3a" stroke-width="1.15" stroke-dasharray="2,1.9"/>
<line x1="207.9" y1="869.0" x2="227.1" y2="871.5" stroke="#3a3a3a" stroke-width="1.15" stroke-dasharray="2,1.9"/>
<line x1="251.5" y1="729.6" x2="270.6" y2="736.6" stroke="#3a3a3a" stroke-width="1.15" stroke-dasharray="2,1.9"/>
<line x1="251.5" y1="815.9" x2="270.6" y2="822.1" stroke="#3a3a3a" stroke-width="1.15" stroke-dasharray="2,1.9"/>
<line x1="251.5" y1="830.0" x2="270.6" y2="837.3" stroke="#3a3a3a" stroke-width="1.15" stroke-dasharray="2,1.9"/>
<line x1="251.5" y1="848.3" x2="270.6" y2="852.5" stroke="#3a3a3a" stroke-width="1.15" stroke-dasharray="2,1.9"/>
<line x1="251.5" y1="871.5" x2="270.6" y2="874.6" stroke="#3a3a3a" stroke-width="1.15" stroke-dasharray="2,1.9"/>
<line x1="295.0" y1="736.6" x2="314.2" y2="739.2" stroke="#3a3a3a" stroke-width="1.15" stroke-dasharray="2,1.9"/>
<line x1="295.0" y1="822.1" x2="314.2" y2="825.0" stroke="#3a3a3a" stroke-width="1.15" stroke-dasharray="2,1.9"/>
<line x1="295.0" y1="822.1" x2="314.2" y2="827.4" stroke="#3a3a3a" stroke-width="1.15" stroke-dasharray="2,1.9"/>
<line x1="295.0" y1="837.3" x2="314.2" y2="842.0" stroke="#3a3a3a" stroke-width="1.15" stroke-dasharray="2,1.9"/>
<line x1="295.0" y1="852.5" x2="314.2" y2="856.4" stroke="#3a3a3a" stroke-width="1.15" stroke-dasharray="2,1.9"/>
<line x1="295.0" y1="874.6" x2="314.2" y2="875.4" stroke="#3a3a3a" stroke-width="1.15" stroke-dasharray="2,1.9"/>
<line x1="338.6" y1="739.2" x2="357.8" y2="734.8" stroke="#3a3a3a" stroke-width="1.15" stroke-dasharray="2,1.9"/>
<line x1="338.6" y1="825.0" x2="357.8" y2="822.3" stroke="#3a3a3a" stroke-width="1.15" stroke-dasharray="2,1.9"/>
<line x1="338.6" y1="827.4" x2="357.8" y2="823.6" stroke="#3a3a3a" stroke-width="1.15" stroke-dasharray="2,1.9"/>
<line x1="338.6" y1="842.0" x2="357.8" y2="836.5" stroke="#3a3a3a" stroke-width="1.15" stroke-dasharray="2,1.9"/>
<line x1="338.6" y1="856.4" x2="357.8" y2="853.1" stroke="#3a3a3a" stroke-width="1.15" stroke-dasharray="2,1.9"/>
<line x1="338.6" y1="856.4" x2="357.8" y2="857.2" stroke="#3a3a3a" stroke-width="1.15" stroke-dasharray="2,1.9"/>
<line x1="338.6" y1="856.4" x2="357.8" y2="857.2" stroke="#3a3a3a" stroke-width="1.15" stroke-dasharray="2,1.9"/>
<line x1="338.6" y1="875.4" x2="357.8" y2="875.6" stroke="#3a3a3a" stroke-width="1.15" stroke-dasharray="2,1.9"/>
<line x1="382.2" y1="734.8" x2="401.4" y2="740.5" stroke="#3a3a3a" stroke-width="1.15" stroke-dasharray="2,1.9"/>
<line x1="382.2" y1="822.3" x2="401.4" y2="843.4" stroke="#3a3a3a" stroke-width="1.15" stroke-dasharray="2,1.9"/>
<line x1="382.2" y1="823.6" x2="401.4" y2="845.6" stroke="#3a3a3a" stroke-width="1.15" stroke-dasharray="2,1.9"/>
<line x1="382.2" y1="836.5" x2="401.4" y2="859.6" stroke="#3a3a3a" stroke-width="1.15" stroke-dasharray="2,1.9"/>
<line x1="382.2" y1="853.1" x2="401.4" y2="878.7" stroke="#3a3a3a" stroke-width="1.15" stroke-dasharray="2,1.9"/>
<line x1="382.2" y1="857.2" x2="401.4" y2="878.7" stroke="#3a3a3a" stroke-width="1.15" stroke-dasharray="2,1.9"/>
<line x1="382.2" y1="857.2" x2="401.4" y2="878.7" stroke="#3a3a3a" stroke-width="1.15" stroke-dasharray="2,1.9"/>
<line x1="382.2" y1="875.6" x2="401.4" y2="903.5" stroke="#3a3a3a" stroke-width="1.15" stroke-dasharray="2,1.9"/>
<line x1="425.8" y1="740.5" x2="444.9" y2="747.6" stroke="#3a3a3a" stroke-width="1.15" stroke-dasharray="2,1.9"/>
<line x1="425.8" y1="843.4" x2="444.9" y2="845.6" stroke="#3a3a3a" stroke-width="1.15" stroke-dasharray="2,1.9"/>
<line x1="425.8" y1="845.6" x2="444.9" y2="846.8" stroke="#3a3a3a" stroke-width="1.15" stroke-dasharray="2,1.9"/>
<line x1="425.8" y1="859.6" x2="444.9" y2="862.2" stroke="#3a3a3a" stroke-width="1.15" stroke-dasharray="2,1.9"/>
<line x1="425.8" y1="878.7" x2="444.9" y2="882.2" stroke="#3a3a3a" stroke-width="1.15" stroke-dasharray="2,1.9"/>
<line x1="425.8" y1="903.5" x2="444.9" y2="891.7" stroke="#3a3a3a" stroke-width="1.15" stroke-dasharray="2,1.9"/>
<line x1="469.3" y1="747.6" x2="488.5" y2="749.7" stroke="#3a3a3a" stroke-width="1.15" stroke-dasharray="2,1.9"/>
<line x1="469.3" y1="845.6" x2="488.5" y2="849.9" stroke="#3a3a3a" stroke-width="1.15" stroke-dasharray="2,1.9"/>
<line x1="469.3" y1="846.8" x2="488.5" y2="851.2" stroke="#3a3a3a" stroke-width="1.15" stroke-dasharray="2,1.9"/>
<line x1="469.3" y1="862.2" x2="488.5" y2="866.9" stroke="#3a3a3a" stroke-width="1.15" stroke-dasharray="2,1.9"/>
<line x1="469.3" y1="882.2" x2="488.5" y2="885.8" stroke="#3a3a3a" stroke-width="1.15" stroke-dasharray="2,1.9"/>
<line x1="469.3" y1="891.7" x2="488.5" y2="892.3" stroke="#3a3a3a" stroke-width="1.15" stroke-dasharray="2,1.9"/>
<rect x="52.8" y="544.3" width="24.4" height="170.5" fill="#80cef3"/>
<rect x="52.8" y="714.8" width="24.4" height="90.6" fill="url(#pKofu)"/>
<rect x="52.8" y="805.4" width="24.4" height="15.2" fill="url(#pJoyo)"/>
<rect x="52.8" y="820.6" width="24.4" height="8.1" fill="#c9ced1"/>
<rect x="52.8" y="828.7" width="24.4" height="34.1" fill="url(#pRinzai)"/>
<rect x="52.8" y="544.3" width="24.4" height="318.5" fill="none" stroke="#7a7677" stroke-width="0.9"/>
<line x1="52.8" y1="714.8" x2="77.2" y2="714.8" stroke="#4a4546" stroke-width="1"/>
<line x1="52.8" y1="805.4" x2="77.2" y2="805.4" stroke="#4a4546" stroke-width="1"/>
<line x1="52.8" y1="805.4" x2="77.2" y2="805.4" stroke="#4a4546" stroke-width="1"/>
<line x1="52.8" y1="820.6" x2="77.2" y2="820.6" stroke="#4a4546" stroke-width="1"/>
<line x1="52.8" y1="828.7" x2="77.2" y2="828.7" stroke="#4a4546" stroke-width="1"/>
<line x1="52.8" y1="828.7" x2="77.2" y2="828.7" stroke="#4a4546" stroke-width="1"/>
<line x1="52.8" y1="828.7" x2="77.2" y2="828.7" stroke="#4a4546" stroke-width="1"/>
<rect x="96.4" y="544.3" width="24.4" height="176.9" fill="#80cef3"/>
<rect x="96.4" y="721.2" width="24.4" height="89.8" fill="url(#pKofu)"/>
<rect x="96.4" y="811.0" width="24.4" height="16.5" fill="url(#pJoyo)"/>
<rect x="96.4" y="827.5" width="24.4" height="10.3" fill="#c9ced1"/>
<rect x="96.4" y="837.8" width="24.4" height="31.2" fill="url(#pRinzai)"/>
<rect x="96.4" y="544.3" width="24.4" height="324.7" fill="none" stroke="#7a7677" stroke-width="0.9"/>
<line x1="96.4" y1="721.2" x2="120.8" y2="721.2" stroke="#4a4546" stroke-width="1"/>
<line x1="96.4" y1="811.0" x2="120.8" y2="811.0" stroke="#4a4546" stroke-width="1"/>
<line x1="96.4" y1="811.0" x2="120.8" y2="811.0" stroke="#4a4546" stroke-width="1"/>
<line x1="96.4" y1="827.5" x2="120.8" y2="827.5" stroke="#4a4546" stroke-width="1"/>
<line x1="96.4" y1="837.8" x2="120.8" y2="837.8" stroke="#4a4546" stroke-width="1"/>
<line x1="96.4" y1="837.8" x2="120.8" y2="837.8" stroke="#4a4546" stroke-width="1"/>
<line x1="96.4" y1="837.8" x2="120.8" y2="837.8" stroke="#4a4546" stroke-width="1"/>
<rect x="139.9" y="544.3" width="24.4" height="183.5" fill="#80cef3"/>
<rect x="139.9" y="727.8" width="24.4" height="88.4" fill="url(#pKofu)"/>
<rect x="139.9" y="816.2" width="24.4" height="16.1" fill="url(#pJoyo)"/>
<rect x="139.9" y="832.3" width="24.4" height="15.4" fill="#c9ced1"/>
<rect x="139.9" y="847.7" width="24.4" height="24.6" fill="url(#pRinzai)"/>
<rect x="139.9" y="544.3" width="24.4" height="328.0" fill="none" stroke="#7a7677" stroke-width="0.9"/>
<line x1="139.9" y1="727.8" x2="164.3" y2="727.8" stroke="#4a4546" stroke-width="1"/>
<line x1="139.9" y1="816.2" x2="164.3" y2="816.2" stroke="#4a4546" stroke-width="1"/>
<line x1="139.9" y1="816.2" x2="164.3" y2="816.2" stroke="#4a4546" stroke-width="1"/>
<line x1="139.9" y1="832.3" x2="164.3" y2="832.3" stroke="#4a4546" stroke-width="1"/>
<line x1="139.9" y1="847.7" x2="164.3" y2="847.7" stroke="#4a4546" stroke-width="1"/>
<line x1="139.9" y1="847.7" x2="164.3" y2="847.7" stroke="#4a4546" stroke-width="1"/>
<line x1="139.9" y1="847.7" x2="164.3" y2="847.7" stroke="#4a4546" stroke-width="1"/>
<rect x="183.5" y="544.3" width="24.4" height="187.5" fill="#80cef3"/>
<rect x="183.5" y="731.8" width="24.4" height="88.2" fill="url(#pKofu)"/>
<rect x="183.5" y="820.0" width="24.4" height="13.5" fill="url(#pJoyo)"/>
<rect x="183.5" y="833.5" width="24.4" height="14.5" fill="#c9ced1"/>
<rect x="183.5" y="848.0" width="24.4" height="21.0" fill="url(#pRinzai)"/>
<rect x="183.5" y="544.3" width="24.4" height="324.7" fill="none" stroke="#7a7677" stroke-width="0.9"/>
<line x1="183.5" y1="731.8" x2="207.9" y2="731.8" stroke="#4a4546" stroke-width="1"/>
<line x1="183.5" y1="820.0" x2="207.9" y2="820.0" stroke="#4a4546" stroke-width="1"/>
<line x1="183.5" y1="820.0" x2="207.9" y2="820.0" stroke="#4a4546" stroke-width="1"/>
<line x1="183.5" y1="833.5" x2="207.9" y2="833.5" stroke="#4a4546" stroke-width="1"/>
<line x1="183.5" y1="848.0" x2="207.9" y2="848.0" stroke="#4a4546" stroke-width="1"/>
<line x1="183.5" y1="848.0" x2="207.9" y2="848.0" stroke="#4a4546" stroke-width="1"/>
<line x1="183.5" y1="848.0" x2="207.9" y2="848.0" stroke="#4a4546" stroke-width="1"/>
<rect x="227.1" y="544.3" width="24.4" height="185.3" fill="#80cef3"/>
<rect x="227.1" y="729.6" width="24.4" height="86.3" fill="url(#pKofu)"/>
<rect x="227.1" y="815.9" width="24.4" height="14.1" fill="url(#pJoyo)"/>
<rect x="227.1" y="830.0" width="24.4" height="18.3" fill="#c9ced1"/>
<rect x="227.1" y="848.3" width="24.4" height="23.2" fill="url(#pRinzai)"/>
<rect x="227.1" y="544.3" width="24.4" height="327.2" fill="none" stroke="#7a7677" stroke-width="0.9"/>
<line x1="227.1" y1="729.6" x2="251.5" y2="729.6" stroke="#4a4546" stroke-width="1"/>
<line x1="227.1" y1="815.9" x2="251.5" y2="815.9" stroke="#4a4546" stroke-width="1"/>
<line x1="227.1" y1="815.9" x2="251.5" y2="815.9" stroke="#4a4546" stroke-width="1"/>
<line x1="227.1" y1="830.0" x2="251.5" y2="830.0" stroke="#4a4546" stroke-width="1"/>
<line x1="227.1" y1="848.3" x2="251.5" y2="848.3" stroke="#4a4546" stroke-width="1"/>
<line x1="227.1" y1="848.3" x2="251.5" y2="848.3" stroke="#4a4546" stroke-width="1"/>
<line x1="227.1" y1="848.3" x2="251.5" y2="848.3" stroke="#4a4546" stroke-width="1"/>
<rect x="270.6" y="544.3" width="24.4" height="192.3" fill="#80cef3"/>
<rect x="270.6" y="736.6" width="24.4" height="85.5" fill="url(#pKofu)"/>
<rect x="270.6" y="822.1" width="24.4" height="15.2" fill="url(#pJoyo)"/>
<rect x="270.6" y="837.3" width="24.4" height="15.2" fill="#c9ced1"/>
<rect x="270.6" y="852.5" width="24.4" height="22.1" fill="url(#pRinzai)"/>
<rect x="270.6" y="544.3" width="24.4" height="330.3" fill="none" stroke="#7a7677" stroke-width="0.9"/>
<line x1="270.6" y1="736.6" x2="295.0" y2="736.6" stroke="#4a4546" stroke-width="1"/>
<line x1="270.6" y1="822.1" x2="295.0" y2="822.1" stroke="#4a4546" stroke-width="1"/>
<line x1="270.6" y1="822.1" x2="295.0" y2="822.1" stroke="#4a4546" stroke-width="1"/>
<line x1="270.6" y1="837.3" x2="295.0" y2="837.3" stroke="#4a4546" stroke-width="1"/>
<line x1="270.6" y1="852.5" x2="295.0" y2="852.5" stroke="#4a4546" stroke-width="1"/>
<line x1="270.6" y1="852.5" x2="295.0" y2="852.5" stroke="#4a4546" stroke-width="1"/>
<line x1="270.6" y1="852.5" x2="295.0" y2="852.5" stroke="#4a4546" stroke-width="1"/>
<rect x="314.2" y="544.3" width="24.4" height="194.9" fill="#80cef3"/>
<rect x="314.2" y="739.2" width="24.4" height="85.8" fill="url(#pKofu)"/>
<rect x="314.2" y="825.0" width="24.4" height="2.4" fill="#a99ad0"/>
<rect x="314.2" y="827.4" width="24.4" height="14.6" fill="url(#pJoyo)"/>
<rect x="314.2" y="842.0" width="24.4" height="14.4" fill="#c9ced1"/>
<rect x="314.2" y="856.4" width="24.4" height="19.0" fill="url(#pRinzai)"/>
<rect x="314.2" y="544.3" width="24.4" height="331.1" fill="none" stroke="#7a7677" stroke-width="0.9"/>
<line x1="314.2" y1="739.2" x2="338.6" y2="739.2" stroke="#4a4546" stroke-width="1"/>
<line x1="314.2" y1="825.0" x2="338.6" y2="825.0" stroke="#4a4546" stroke-width="1"/>
<line x1="314.2" y1="827.4" x2="338.6" y2="827.4" stroke="#4a4546" stroke-width="1"/>
<line x1="314.2" y1="842.0" x2="338.6" y2="842.0" stroke="#4a4546" stroke-width="1"/>
<line x1="314.2" y1="856.4" x2="338.6" y2="856.4" stroke="#4a4546" stroke-width="1"/>
<line x1="314.2" y1="856.4" x2="338.6" y2="856.4" stroke="#4a4546" stroke-width="1"/>
<line x1="314.2" y1="856.4" x2="338.6" y2="856.4" stroke="#4a4546" stroke-width="1"/>
<rect x="357.8" y="544.3" width="24.4" height="190.5" fill="#80cef3"/>
<rect x="357.8" y="734.8" width="24.4" height="87.5" fill="url(#pKofu)"/>
<rect x="357.8" y="822.3" width="24.4" height="1.3" fill="#a99ad0"/>
<rect x="357.8" y="823.6" width="24.4" height="12.9" fill="url(#pJoyo)"/>
<rect x="357.8" y="836.5" width="24.4" height="16.6" fill="#c9ced1"/>
<rect x="357.8" y="853.1" width="24.4" height="4.1" fill="url(#pGenshu)"/>
<rect x="357.8" y="857.2" width="24.4" height="18.4" fill="url(#pRinzai)"/>
<rect x="357.8" y="544.3" width="24.4" height="331.3" fill="none" stroke="#7a7677" stroke-width="0.9"/>
<line x1="357.8" y1="734.8" x2="382.2" y2="734.8" stroke="#4a4546" stroke-width="1"/>
<line x1="357.8" y1="822.3" x2="382.2" y2="822.3" stroke="#4a4546" stroke-width="1"/>
<line x1="357.8" y1="823.6" x2="382.2" y2="823.6" stroke="#4a4546" stroke-width="1"/>
<line x1="357.8" y1="836.5" x2="382.2" y2="836.5" stroke="#4a4546" stroke-width="1"/>
<line x1="357.8" y1="853.1" x2="382.2" y2="853.1" stroke="#4a4546" stroke-width="1"/>
<line x1="357.8" y1="857.2" x2="382.2" y2="857.2" stroke="#4a4546" stroke-width="1"/>
<line x1="357.8" y1="857.2" x2="382.2" y2="857.2" stroke="#4a4546" stroke-width="1"/>
<rect x="401.4" y="544.3" width="24.4" height="196.2" fill="#80cef3"/>
<rect x="401.4" y="740.5" width="24.4" height="102.9" fill="url(#pKofu)"/>
<rect x="401.4" y="843.4" width="24.4" height="2.2" fill="#a99ad0"/>
<rect x="401.4" y="845.6" width="24.4" height="14.0" fill="url(#pJoyo)"/>
<rect x="401.4" y="859.6" width="24.4" height="19.1" fill="#c9ced1"/>
<rect x="401.4" y="878.7" width="24.4" height="24.8" fill="url(#pRinzai)"/>
<rect x="401.4" y="544.3" width="24.4" height="359.2" fill="none" stroke="#7a7677" stroke-width="0.9"/>
<line x1="401.4" y1="740.5" x2="425.8" y2="740.5" stroke="#4a4546" stroke-width="1"/>
<line x1="401.4" y1="843.4" x2="425.8" y2="843.4" stroke="#4a4546" stroke-width="1"/>
<line x1="401.4" y1="845.6" x2="425.8" y2="845.6" stroke="#4a4546" stroke-width="1"/>
<line x1="401.4" y1="859.6" x2="425.8" y2="859.6" stroke="#4a4546" stroke-width="1"/>
<line x1="401.4" y1="878.7" x2="425.8" y2="878.7" stroke="#4a4546" stroke-width="1"/>
<line x1="401.4" y1="878.7" x2="425.8" y2="878.7" stroke="#4a4546" stroke-width="1"/>
<line x1="401.4" y1="878.7" x2="425.8" y2="878.7" stroke="#4a4546" stroke-width="1"/>
<rect x="444.9" y="544.3" width="24.4" height="203.3" fill="#80cef3"/>
<rect x="444.9" y="747.6" width="24.4" height="98.0" fill="url(#pKofu)"/>
<rect x="444.9" y="845.6" width="24.4" height="1.2" fill="#a99ad0"/>
<rect x="444.9" y="846.8" width="24.4" height="15.4" fill="url(#pJoyo)"/>
<rect x="444.9" y="862.2" width="24.4" height="20.0" fill="#c9ced1"/>
<rect x="444.9" y="882.2" width="24.4" height="9.5" fill="url(#pRinzai)"/>
<rect x="444.9" y="544.3" width="24.4" height="347.4" fill="none" stroke="#7a7677" stroke-width="0.9"/>
<line x1="444.9" y1="747.6" x2="469.3" y2="747.6" stroke="#4a4546" stroke-width="1"/>
<line x1="444.9" y1="845.6" x2="469.3" y2="845.6" stroke="#4a4546" stroke-width="1"/>
<line x1="444.9" y1="846.8" x2="469.3" y2="846.8" stroke="#4a4546" stroke-width="1"/>
<line x1="444.9" y1="862.2" x2="469.3" y2="862.2" stroke="#4a4546" stroke-width="1"/>
<line x1="444.9" y1="882.2" x2="469.3" y2="882.2" stroke="#4a4546" stroke-width="1"/>
<line x1="444.9" y1="882.2" x2="469.3" y2="882.2" stroke="#4a4546" stroke-width="1"/>
<line x1="444.9" y1="882.2" x2="469.3" y2="882.2" stroke="#4a4546" stroke-width="1"/>
<rect x="488.5" y="544.3" width="24.4" height="205.4" fill="#80cef3"/>
<rect x="488.5" y="749.7" width="24.4" height="100.2" fill="url(#pKofu)"/>
<rect x="488.5" y="849.9" width="24.4" height="1.3" fill="#a99ad0"/>
<rect x="488.5" y="851.2" width="24.4" height="15.7" fill="url(#pJoyo)"/>
<rect x="488.5" y="866.9" width="24.4" height="18.9" fill="#c9ced1"/>
<rect x="488.5" y="885.8" width="24.4" height="0.8" fill="url(#pGenshu)"/>
<rect x="488.5" y="886.6" width="24.4" height="0.8" fill="#e4efb4"/>
<rect x="488.5" y="887.4" width="24.4" height="4.9" fill="url(#pRinzai)"/>
<rect x="488.5" y="544.3" width="24.4" height="348.0" fill="none" stroke="#7a7677" stroke-width="0.9"/>
<line x1="488.5" y1="749.7" x2="512.9" y2="749.7" stroke="#4a4546" stroke-width="1"/>
<line x1="488.5" y1="849.9" x2="512.9" y2="849.9" stroke="#4a4546" stroke-width="1"/>
<line x1="488.5" y1="851.2" x2="512.9" y2="851.2" stroke="#4a4546" stroke-width="1"/>
<line x1="488.5" y1="866.9" x2="512.9" y2="866.9" stroke="#4a4546" stroke-width="1"/>
<line x1="488.5" y1="885.8" x2="512.9" y2="885.8" stroke="#4a4546" stroke-width="1"/>
<line x1="488.5" y1="886.6" x2="512.9" y2="886.6" stroke="#4a4546" stroke-width="1"/>
<line x1="488.5" y1="887.4" x2="512.9" y2="887.4" stroke="#4a4546" stroke-width="1"/>
<text x="65.0" y="875.1" font-size="12.5" fill="#231f20" text-anchor="middle" stroke="#231f20" stroke-width="0.25" textLength="36.8" lengthAdjust="spacingAndGlyphs" >568,442</text>
<text x="108.6" y="882.0" font-size="12.5" fill="#231f20" text-anchor="middle" stroke="#231f20" stroke-width="0.25" textLength="36.8" lengthAdjust="spacingAndGlyphs" >576,741</text>
<text x="152.1" y="885.6" font-size="12.5" fill="#231f20" text-anchor="middle" stroke="#231f20" stroke-width="0.25" textLength="36.8" lengthAdjust="spacingAndGlyphs" >585,398</text>
<text x="195.7" y="881.6" font-size="12.5" fill="#231f20" text-anchor="middle" stroke="#231f20" stroke-width="0.25" textLength="36.8" lengthAdjust="spacingAndGlyphs" >577,421</text>
<text x="239.3" y="883.6" font-size="12.5" fill="#231f20" text-anchor="middle" stroke="#231f20" stroke-width="0.25" textLength="36.8" lengthAdjust="spacingAndGlyphs" >582,902</text>
<text x="282.8" y="888.6" font-size="12.5" fill="#231f20" text-anchor="middle" stroke="#231f20" stroke-width="0.25" textLength="36.8" lengthAdjust="spacingAndGlyphs" >587,808</text>
<text x="326.4" y="888.6" font-size="12.5" fill="#231f20" text-anchor="middle" stroke="#231f20" stroke-width="0.25" textLength="36.8" lengthAdjust="spacingAndGlyphs" >589,573</text>
<text x="370.0" y="889.4" font-size="12.5" fill="#231f20" text-anchor="middle" stroke="#231f20" stroke-width="0.25" textLength="36.8" lengthAdjust="spacingAndGlyphs" >590,351</text>
<text x="413.6" y="916.6" font-size="12.5" fill="#231f20" text-anchor="middle" stroke="#231f20" stroke-width="0.25" textLength="36.8" lengthAdjust="spacingAndGlyphs" >640,581</text>
<text x="457.1" y="905.0" font-size="12.5" fill="#231f20" text-anchor="middle" stroke="#231f20" stroke-width="0.25" textLength="36.8" lengthAdjust="spacingAndGlyphs" >618,529</text>
<text x="500.7" y="905.0" font-size="12.5" fill="#231f20" text-anchor="middle" stroke="#231f20" stroke-width="0.25" textLength="36.8" lengthAdjust="spacingAndGlyphs" >619,796</text>
<text x="520.5" y="905" font-size="11" fill="#231f20" text-anchor="start" stroke="#231f20" stroke-width="0.15" textLength="18" lengthAdjust="spacingAndGlyphs" >億円</text>
<line x1="516" y1="850.3" x2="530" y2="850.3" stroke="#3a3536" stroke-width="0.9"/>
<path d="M514 850.3l4.5 -2.5v5z" fill="#3a3536"/>
<text x="534" y="854.3" font-size="11" fill="#3a3536" text-anchor="start" stroke="#3a3536" stroke-width="0.1" textLength="86.4" lengthAdjust="spacingAndGlyphs" >地方特例交付金等</text>
<line x1="516" y1="886.5" x2="530" y2="886.5" stroke="#3a3536" stroke-width="0.9"/>
<path d="M514 886.5l4.5 -2.5v5z" fill="#3a3536"/>
<text x="534" y="890.5" font-size="11" fill="#3a3536" text-anchor="start" stroke="#3a3536" stroke-width="0.1" textLength="86.4" lengthAdjust="spacingAndGlyphs" >減収補填債特例分</text>
<text x="533.5" y="561.8" font-size="8.5" fill="#3a3536" text-anchor="start" textLength="84" lengthAdjust="spacingAndGlyphs" >経常一般財源等⋯分母</text>
<rect x="533.2" y="566.2" width="23.8" height="16.04" fill="#80cef3" stroke="#7a7677" stroke-width="0.9"/>
<text x="562.3" y="578.4" font-size="11.5" fill="#2a2526" text-anchor="start" stroke="#2a2526" stroke-width="0.2" textLength="33.0" lengthAdjust="spacingAndGlyphs" >地方税</text>
<rect x="533.2" y="582.2" width="23.8" height="16.04" fill="url(#pKofu)" stroke="#7a7677" stroke-width="0.9"/>
<text x="562.3" y="594.4" font-size="11.5" fill="#2a2526" text-anchor="start" stroke="#2a2526" stroke-width="0.2" textLength="55.0" lengthAdjust="spacingAndGlyphs" >地方交付税</text>
<rect x="533.2" y="598.3" width="23.8" height="16.04" fill="#a99ad0" stroke="#7a7677" stroke-width="0.9"/>
<text x="562.3" y="610.5" font-size="11.5" fill="#2a2526" text-anchor="start" stroke="#2a2526" stroke-width="0.2" textLength="88.0" lengthAdjust="spacingAndGlyphs" >地方特例交付金等</text>
<rect x="533.2" y="614.3" width="23.8" height="16.04" fill="url(#pJoyo)" stroke="#7a7677" stroke-width="0.9"/>
<text x="562.3" y="626.5" font-size="11.5" fill="#2a2526" text-anchor="start" stroke="#2a2526" stroke-width="0.2" textLength="55.0" lengthAdjust="spacingAndGlyphs" >地方譲与税</text>
<rect x="533.2" y="630.4" width="23.8" height="16.04" fill="#c9ced1" stroke="#7a7677" stroke-width="0.9"/>
<text x="562.3" y="642.6" font-size="11.5" fill="#2a2526" text-anchor="start" stroke="#2a2526" stroke-width="0.2" textLength="33.0" lengthAdjust="spacingAndGlyphs" >その他</text>
<rect x="533.2" y="646.4" width="23.8" height="16.04" fill="url(#pGenshu)" stroke="#7a7677" stroke-width="0.9"/>
<text x="562.3" y="658.6" font-size="11.5" fill="#2a2526" text-anchor="start" stroke="#2a2526" stroke-width="0.2" textLength="88.0" lengthAdjust="spacingAndGlyphs" >減収補填債特例分</text>
<rect x="533.2" y="662.4" width="23.8" height="16.04" fill="#e4efb4" stroke="#7a7677" stroke-width="0.9"/>
<text x="562.3" y="674.6" font-size="11.5" fill="#2a2526" text-anchor="start" stroke="#2a2526" stroke-width="0.2" textLength="55.0" lengthAdjust="spacingAndGlyphs" >猶予特例債</text>
<rect x="533.2" y="678.5" width="23.8" height="16.04" fill="url(#pRinzai)" stroke="#7a7677" stroke-width="0.9"/>
<text x="562.3" y="690.7" font-size="11.5" fill="#2a2526" text-anchor="start" stroke="#2a2526" stroke-width="0.2" textLength="77.0" lengthAdjust="spacingAndGlyphs" >臨時財政対策債</text>
<text x="10.8" y="979.2" font-size="9" fill="#3a3536" text-anchor="start" textLength="13.8" lengthAdjust="spacingAndGlyphs" >(注)</text>
<text x="32.3" y="979.2" font-size="9" fill="#3a3536" text-anchor="start" >1</text>
<text x="45.5" y="979.2" font-size="9" fill="#3a3536" text-anchor="start" textLength="208.0" lengthAdjust="spacingAndGlyphs" >経常収支比率の計算式はその２、その３において同じ。</text>
<text x="32.3" y="989.8000000000001" font-size="9" fill="#3a3536" text-anchor="start" >2</text>
<text x="45.5" y="989.8000000000001" font-size="9" fill="#3a3536" text-anchor="start" textLength="343.5" lengthAdjust="spacingAndGlyphs" >合計及び市町村には、特別区及び一部事務組合等は含まれていない。その３において同じ。</text>
<text x="32.3" y="1000.4000000000001" font-size="9" fill="#3a3536" text-anchor="start" >3</text>
<text x="45.5" y="1000.4000000000001" font-size="9" fill="#3a3536" text-anchor="start" textLength="317.5" lengthAdjust="spacingAndGlyphs" >令和２年度・令和３年度の経常収支比率における分母には、猶予特例債も含まれる。</text>
</svg></body></html>
